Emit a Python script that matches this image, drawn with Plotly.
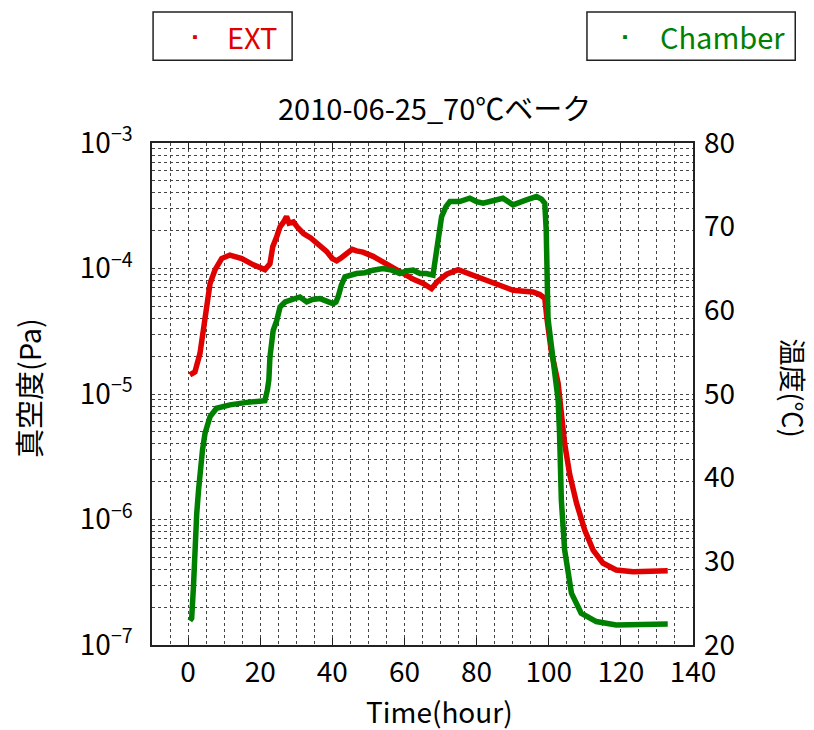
import plotly.graph_objects as go

# ---- data ----
ext_time = [0.5, 1.9, 3.3, 4.2, 5.2, 6.1, 7.5, 9.3, 11.6, 14.9, 18.1, 21.3, 22.7, 23.5,
            24.6, 25.5, 26.5, 27.3, 28.0, 29.2, 30.5, 32.0, 34.0, 35.6, 37.0, 38.4, 40.0,
            41.2, 42.5, 44.0, 45.5, 46.7, 48.5, 51.3, 53.5, 56.0, 58.0, 60.6, 62.5, 65.2,
            67.5, 69.0, 71.7, 74.9, 77.5, 80.0, 82.0, 84.6, 87.5, 90.1, 93.0, 95.6, 97.5,
            98.9, 99.5, 100.7, 102.6, 103.5, 104.4, 105.8, 107.7, 110.0, 112.3, 115.0,
            118.7, 123.4, 128.0, 133.0]
ext_pressure = [1.42e-5, 1.5e-5, 2.1e-5, 3.2e-5, 5.0e-5, 7.6e-5, 9.8e-5, 1.2e-4, 1.28e-4,
                1.2e-4, 1.07e-4, 9.8e-5, 1.09e-4, 1.5e-4, 1.8e-4, 2.15e-4, 2.35e-4, 2.6e-4,
                2.3e-4, 2.35e-4, 2.1e-4, 1.9e-4, 1.75e-4, 1.6e-4, 1.5e-4, 1.37e-4, 1.2e-4,
                1.15e-4, 1.22e-4, 1.32e-4, 1.42e-4, 1.38e-4, 1.35e-4, 1.25e-4, 1.15e-4,
                1.03e-4, 9.5e-5, 8.7e-5, 8.2e-5, 7.6e-5, 6.9e-5, 7.8e-5, 9.0e-5, 9.8e-5,
                9.2e-5, 8.6e-5, 8.2e-5, 7.6e-5, 7.2e-5, 6.7e-5, 6.6e-5, 6.5e-5, 6.2e-5,
                5.8e-5, 4.0e-5, 2.2e-5, 1.22e-5, 6.6e-6, 4.05e-6, 2.3e-6, 1.35e-6, 8.2e-7,
                5.7e-7, 4.5e-7, 3.96e-7, 3.84e-7, 3.85e-7, 3.9e-7]

ch_time = [0.5, 1.0, 1.5, 1.9, 2.4, 2.9, 3.3, 4.0, 4.7, 6.1, 7.9, 11.6, 16.3, 21.3, 22.0,
           22.4, 22.7, 23.6, 24.6, 25.5, 26.9, 28.3, 31.0, 32.9, 34.5, 36.6, 38.5, 40.2,
           41.0, 41.6, 42.5, 43.5, 46.7, 49.0, 51.3, 54.0, 56.5, 58.7, 60.5, 62.4, 64.3,
           66.1, 67.9, 68.5, 68.9, 69.5, 70.3, 71.5, 72.6, 75.3, 76.5, 78.1, 80.0, 81.8,
           84.5, 87.3, 90.1, 92.0, 93.8, 96.6, 98.0, 98.9, 99.3, 99.8, 101.2, 102.6,
           103.0, 103.5, 104.4, 106.3, 109.0, 113.2, 118.7, 125.0, 133.0]
ch_temp = [22.9, 23.2, 27.0, 32.9, 35.7, 38.5, 40.9, 43.3, 45.3, 47.3, 48.3, 48.7, 49.0,
           49.2, 50.5, 51.7, 54.4, 57.6, 58.8, 60.4, 61.0, 61.2, 61.6, 61.0, 61.3, 61.4,
           61.1, 60.8, 61.0, 61.6, 63.0, 64.0, 64.4, 64.5, 64.8, 65.0, 64.8, 64.4, 64.7,
           64.8, 64.4, 64.4, 64.2, 66.0, 68.0, 69.8, 71.2, 72.4, 73.0, 73.0, 73.2, 73.4,
           73.0, 72.8, 73.1, 73.4, 72.6, 73.0, 73.2, 73.6, 73.3, 72.8, 69.6, 59.0, 54.0,
           49.3, 45.3, 37.3, 31.4, 26.2, 23.8, 22.8, 22.4, 22.4, 22.5]

decades = [-7, -6, -5, -4, -3]
temp_ticks = [20, 30, 40, 50, 60, 70, 80]
time_ticks = [0, 20, 40, 60, 80, 100, 120, 140]

RED = "#e00000"
GREEN = "#008000"
FONT = "Noto Sans CJK JP"
GRID = "#444444"
TICK_SIZE = 28
TEXT_SIZE = 29

# log grid values (1..9 per decade)
yvals, ytext = [], []
for e in decades[:-1]:
    for m in range(1, 10):
        yvals.append(m * 10.0 ** e)
        ytext.append(f"10<sup>\u2212{-e}</sup>" if m == 1 else "")
yvals.append(10.0 ** decades[-1])
ytext.append(f"10<sup>\u2212{-decades[-1]}</sup>")

fig = go.Figure()
fig.add_trace(go.Scatter(x=ext_time, y=ext_pressure, mode="lines", name="EXT",
                         line=dict(color=RED, width=5.5), showlegend=False))
fig.add_trace(go.Scatter(x=ch_time, y=ch_temp, mode="lines", name="Chamber", yaxis="y2",
                         line=dict(color=GREEN, width=5.5), showlegend=False))

fig.update_layout(
    width=814, height=730,
    margin=dict(l=152, r=121, t=143, b=85),
    paper_bgcolor="white", plot_bgcolor="white",
    font=dict(family=FONT, size=TICK_SIZE, color="black"),
    xaxis=dict(range=[-10, 140], tickvals=time_ticks, ticks="inside", ticklen=7,
               tickcolor="#222", mirror="ticks", showline=True, linecolor="#222", linewidth=1.5,
               showgrid=True, gridcolor=GRID, griddash="dot", gridwidth=1,
               minor=dict(dtick=5, tick0=0, showgrid=True, gridcolor=GRID, griddash="dot",
                          gridwidth=1, ticks=""),
               zeroline=False, ticklabelstandoff=2,
               tickfont=dict(size=TICK_SIZE, family=FONT)),
    yaxis=dict(type="log", range=[-7, -3], tickvals=yvals, ticktext=ytext, ticks="",
               showline=True, linecolor="#222", linewidth=1.5, mirror=True,
               showgrid=True, gridcolor=GRID, griddash="dot", gridwidth=1,
               zeroline=False, ticklabelstandoff=12,
               tickfont=dict(size=TICK_SIZE, family=FONT)),
    yaxis2=dict(range=[20, 80], tickvals=temp_ticks, overlaying="y", side="right",
                showgrid=False, zeroline=False, ticks="", showline=False,
                ticklabelstandoff=10, tickfont=dict(size=TICK_SIZE, family=FONT)),
)

# legend-like boxes
fig.add_shape(type="rect", xref="paper", yref="paper", x0=0.002, x1=0.259, y0=1.165, y1=1.261,
              line=dict(color="#222", width=1.5), fillcolor="white")
fig.add_shape(type="rect", xref="paper", yref="paper", x0=0.804, x1=1.189, y0=1.165, y1=1.261,
              line=dict(color="#222", width=1.5), fillcolor="white")

ann = [
    dict(x=0.0795, y=1.213, text="\u25aa", font=dict(color=RED, size=14), xanchor="center"),
    dict(x=0.135, y=1.213, text="EXT", font=dict(color=RED, size=TEXT_SIZE), xanchor="left"),
    dict(x=0.874, y=1.213, text="\u25aa", font=dict(color=GREEN, size=14), xanchor="center"),
    dict(x=0.935, y=1.213, text="Chamber", font=dict(color=GREEN, size=TEXT_SIZE), xanchor="left"),
    dict(x=0.523, y=1.072, text="2010-06-25_70\u2103\u30d9\u30fc\u30af",
         font=dict(size=TEXT_SIZE), xanchor="center"),
    dict(x=-0.229, y=0.512, text="\u771f\u7a7a\u5ea6(Pa)", textangle=-90,
         font=dict(size=TEXT_SIZE), xanchor="center"),
    dict(x=1.184, y=0.512, text="\u6e29\u5ea6(\u2103)", textangle=90,
         font=dict(size=27), xanchor="center"),
    dict(x=0.532, y=-0.131, text="Time(hour)", font=dict(size=28), xanchor="center"),
]
for a in ann:
    a.update(xref="paper", yref="paper", showarrow=False, yanchor="middle")
    fig.add_annotation(**a)

fig.write_html("out.html", config={"displayModeBar": False},
               post_script="document.body.style.margin='0';document.body.style.padding='0';")
